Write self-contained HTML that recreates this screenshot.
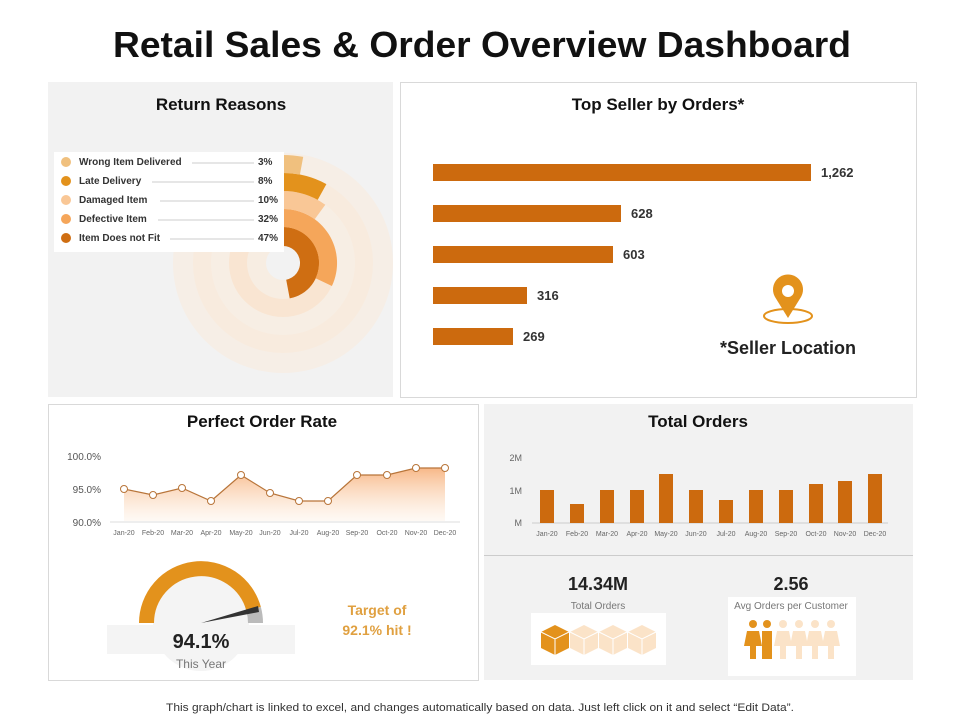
<!DOCTYPE html>
<html><head><meta charset="utf-8"><style>
body{margin:0;background:#fff;}
svg{display:block;font-family:"Liberation Sans",Arial,sans-serif;}
</style></head><body>
<svg width="960" height="720" viewBox="0 0 960 720">
<text x="482" y="57" text-anchor="middle" font-size="36" font-weight="bold" fill="#111" textLength="738" lengthAdjust="spacingAndGlyphs">Retail Sales &amp; Order Overview Dashboard</text>

<!-- Panel 1 -->
<rect x="48" y="82" width="345" height="315" fill="#f2f2f2"/>
<text x="221" y="110" text-anchor="middle" font-size="17" font-weight="bold" fill="#111">Return Reasons</text>
<circle cx="283" cy="263" r="110" fill="#f6eee6"/>
<circle cx="283" cy="263" r="90" fill="#f8ebde"/>
<circle cx="283" cy="263" r="72" fill="#f7eee4"/>
<circle cx="283" cy="263" r="54" fill="#f9e5d2"/>
<circle cx="283" cy="263" r="36" fill="#f7ede2"/>
<circle cx="283" cy="263" r="17" fill="#f2f2f2"/>
<path d="M283,227 A36,36 0 0 1 289.7,298.4 L286.2,279.7 A17,17 0 0 0 283,246 Z" fill="#cf6e12"/>
<path d="M283,209 A54,54 0 0 1 331.9,286.0 L315.6,278.3 A36,36 0 0 0 283,227 Z" fill="#f5a65a"/>
<path d="M283,191 A72,72 0 0 1 325.3,204.8 L314.7,219.3 A54,54 0 0 0 283,209 Z" fill="#f9c796"/>
<path d="M283,173 A90,90 0 0 1 326.4,184.1 L317.7,199.9 A72,72 0 0 0 283,191 Z" fill="#e3921c"/>
<path d="M283,155 A108,108 0 0 1 303.2,156.9 L299.9,174.6 A90,90 0 0 0 283,173 Z" fill="#f0c07e"/>
<rect x="54" y="152" width="230" height="100" fill="#fff"/>
<g font-size="10" font-weight="bold" fill="#333">
<circle cx="66" cy="162" r="5" fill="#f0c07e"/><text x="79" y="165">Wrong Item Delivered</text><line x1="192" y1="163" x2="254" y2="163" stroke="#ccc"/><text x="258" y="165">3%</text>
<circle cx="66" cy="181" r="5" fill="#e3921c"/><text x="79" y="184">Late Delivery</text><line x1="152" y1="182" x2="254" y2="182" stroke="#ccc"/><text x="258" y="184">8%</text>
<circle cx="66" cy="200" r="5" fill="#f9c796"/><text x="79" y="203">Damaged Item</text><line x1="160" y1="201" x2="254" y2="201" stroke="#ccc"/><text x="258" y="203">10%</text>
<circle cx="66" cy="219" r="5" fill="#f5a65a"/><text x="79" y="222">Defective Item</text><line x1="158" y1="220" x2="254" y2="220" stroke="#ccc"/><text x="258" y="222">32%</text>
<circle cx="66" cy="238" r="5" fill="#cf6e12"/><text x="79" y="241">Item Does not Fit</text><line x1="170" y1="239" x2="254" y2="239" stroke="#ccc"/><text x="258" y="241">47%</text>
</g>

<!-- Panel 2 -->
<rect x="400.5" y="82.5" width="516" height="315" fill="#fff" stroke="#d9d9d9"/>
<text x="658" y="110" text-anchor="middle" font-size="17" font-weight="bold" fill="#111">Top Seller by Orders*</text>
<g fill="#cc6a0e">
<rect x="433" y="164" width="378" height="17"/>
<rect x="433" y="205" width="188" height="17"/>
<rect x="433" y="246" width="180" height="17"/>
<rect x="433" y="287" width="94" height="17"/>
<rect x="433" y="328" width="80" height="17"/>
</g>
<g font-size="13" font-weight="bold" fill="#333">
<text x="821" y="177">1,262</text><text x="631" y="218">628</text><text x="623" y="259">603</text><text x="537" y="300">316</text><text x="523" y="341">269</text>
</g>
<ellipse cx="788" cy="316" rx="24" ry="7" fill="none" stroke="#e3921c" stroke-width="2"/>
<path d="M788,318 L775,297 A15,15 0 1 1 801,297 Z" fill="#e3921c"/>
<circle cx="788" cy="291" r="6" fill="#fff"/>
<text x="788" y="354" text-anchor="middle" font-size="18" font-weight="bold" fill="#222">*Seller Location</text>

<!-- Panel 3 -->
<rect x="48.5" y="404.5" width="430" height="276" fill="#fff" stroke="#d9d9d9"/>
<text x="262" y="427" text-anchor="middle" font-size="17" font-weight="bold" fill="#111">Perfect Order Rate</text>
<defs><linearGradient id="g1" x1="0" y1="0" x2="0" y2="1"><stop offset="0" stop-color="#f5a060" stop-opacity="0.75"/><stop offset="1" stop-color="#fbd8b8" stop-opacity="0.15"/></linearGradient></defs>
<g font-size="10" fill="#555" text-anchor="end"><text x="101" y="460">100.0%</text><text x="101" y="493">95.0%</text><text x="101" y="526">90.0%</text></g>
<path d="M124,489 L153,495 L182,488 L211,501 L241,475 L270,493 L299,501 L328,501 L357,475 L387,475 L416,468 L445,468 L445,521 L124,521 Z" fill="url(#g1)"/>
<line x1="110" y1="522" x2="460" y2="522" stroke="#ddd"/>
<polyline points="124,489 153,495 182,488 211,501 241,475 270,493 299,501 328,501 357,475 387,475 416,468 445,468" fill="none" stroke="#b8753a" stroke-width="1.2"/>
<g fill="#fff" stroke="#b8753a" stroke-width="1"><circle cx="124" cy="489" r="3.5"/><circle cx="153" cy="495" r="3.5"/><circle cx="182" cy="488" r="3.5"/><circle cx="211" cy="501" r="3.5"/><circle cx="241" cy="475" r="3.5"/><circle cx="270" cy="493" r="3.5"/><circle cx="299" cy="501" r="3.5"/><circle cx="328" cy="501" r="3.5"/><circle cx="357" cy="475" r="3.5"/><circle cx="387" cy="475" r="3.5"/><circle cx="416" cy="468" r="3.5"/><circle cx="445" cy="468" r="3.5"/></g>
<g font-size="7" fill="#666" text-anchor="middle"><text x="124" y="535">Jan-20</text><text x="153" y="535">Feb-20</text><text x="182" y="535">Mar-20</text><text x="211" y="535">Apr-20</text><text x="241" y="535">May-20</text><text x="270" y="535">Jun-20</text><text x="299" y="535">Jul-20</text><text x="328" y="535">Aug-20</text><text x="357" y="535">Sep-20</text><text x="387" y="535">Oct-20</text><text x="416" y="535">Nov-20</text><text x="445" y="535">Dec-20</text></g>
<circle cx="201" cy="623" r="48" fill="#f4f4f4"/>
<path d="M146.5,623 A54.5,54.5 0 0 1 253.6,608.9" fill="none" stroke="#e3921c" stroke-width="15"/>
<path d="M253.6,608.9 A54.5,54.5 0 0 1 255.5,623" fill="none" stroke="#bbb" stroke-width="15"/>
<path d="M201,623 L258,606 L259,612 Z" fill="#333"/>
<rect x="107" y="625" width="188" height="29" fill="#f4f4f4"/>
<text x="201" y="648" text-anchor="middle" font-size="20" font-weight="bold" fill="#222">94.1%</text>
<text x="201" y="668" text-anchor="middle" font-size="12" fill="#777">This Year</text>
<text x="377" y="615" text-anchor="middle" font-size="14" font-weight="bold" fill="#e0a040">Target of</text>
<text x="377" y="635" text-anchor="middle" font-size="14" font-weight="bold" fill="#e0a040">92.1% hit !</text>

<!-- Panel 4 -->
<rect x="484" y="404" width="429" height="276" fill="#f2f2f2"/>
<text x="698" y="427" text-anchor="middle" font-size="17" font-weight="bold" fill="#111">Total Orders</text>
<g font-size="9" fill="#666" text-anchor="end"><text x="522" y="461">2M</text><text x="522" y="494">1M</text><text x="522" y="526">M</text></g>
<line x1="532" y1="523" x2="888" y2="523" stroke="#ccc"/>
<g fill="#cc6a0e">
<rect x="540" y="490" width="14" height="33"/><rect x="570" y="504" width="14" height="19"/><rect x="600" y="490" width="14" height="33"/><rect x="630" y="490" width="14" height="33"/><rect x="659" y="474" width="14" height="49"/><rect x="689" y="490" width="14" height="33"/><rect x="719" y="500" width="14" height="23"/><rect x="749" y="490" width="14" height="33"/><rect x="779" y="490" width="14" height="33"/><rect x="809" y="484" width="14" height="39"/><rect x="838" y="481" width="14" height="42"/><rect x="868" y="474" width="14" height="49"/>
</g>
<g font-size="7" fill="#666" text-anchor="middle"><text x="547" y="536">Jan-20</text><text x="577" y="536">Feb-20</text><text x="607" y="536">Mar-20</text><text x="637" y="536">Apr-20</text><text x="666" y="536">May-20</text><text x="696" y="536">Jun-20</text><text x="726" y="536">Jul-20</text><text x="756" y="536">Aug-20</text><text x="786" y="536">Sep-20</text><text x="816" y="536">Oct-20</text><text x="845" y="536">Nov-20</text><text x="875" y="536">Dec-20</text></g>
<line x1="484" y1="555.5" x2="913" y2="555.5" stroke="#ccc"/>
<text x="598" y="590" text-anchor="middle" font-size="18" font-weight="bold" fill="#222">14.34M</text>
<text x="598" y="609" text-anchor="middle" font-size="10" fill="#777">Total Orders</text>
<rect x="531" y="613" width="135" height="52" fill="#fff"/>
<g>
<path d="M541,632 L555,625 L569,632 L569,648 L555,655 L541,648 Z" fill="#e3921c"/>
<path d="M555,639 L555,655 M541,632 L555,639 L569,632" stroke="#fff" fill="none"/>
<path d="M570,632 L584,625 L598,632 L598,648 L584,655 L570,648 Z" fill="#fbe3c8"/>
<path d="M599,632 L613,625 L627,632 L627,648 L613,655 L599,648 Z" fill="#fbe3c8"/>
<path d="M628,632 L642,625 L656,632 L656,648 L642,655 L628,648 Z" fill="#fbe3c8"/>
<path d="M584,639 L584,655 M570,632 L584,639 L598,632 M613,639 L613,655 M599,632 L613,639 L627,632 M642,639 L642,655 M628,632 L642,639 L656,632" stroke="#fff" fill="none"/>
</g>
<text x="791" y="590" text-anchor="middle" font-size="18" font-weight="bold" fill="#222">2.56</text>
<rect x="728" y="597" width="128" height="79" fill="#fff"/>
<text x="791" y="609" text-anchor="middle" font-size="10" fill="#777">Avg Orders per Customer</text>
<g>
<g fill="#e3921c"><circle cx="753" cy="624" r="4"/><path d="M747,631 L759,631 L762,646 L756,646 L756,659 L750,659 L750,646 L744,646 Z"/>
<circle cx="767" cy="624" r="4"/><path d="M762,631 L772,631 L772,659 L762,659 Z"/></g>
<g fill="#fbe3c8"><circle cx="783" cy="624" r="4"/><path d="M777,631 L789,631 L792,646 L786,646 L786,659 L780,659 L780,646 L774,646 Z"/>
<circle cx="799" cy="624" r="4"/><path d="M793,631 L805,631 L808,646 L802,646 L802,659 L796,659 L796,646 L790,646 Z"/>
<circle cx="815" cy="624" r="4"/><path d="M809,631 L821,631 L824,646 L818,646 L818,659 L812,659 L812,646 L806,646 Z"/>
<circle cx="831" cy="624" r="4"/><path d="M825,631 L837,631 L840,646 L834,646 L834,659 L828,659 L828,646 L822,646 Z"/></g>
</g>

<text x="480" y="711" text-anchor="middle" font-size="11" fill="#333" textLength="628" lengthAdjust="spacingAndGlyphs">This graph/chart is linked to excel, and changes automatically based on data. Just left click on it and select “Edit Data”.</text>
</svg>
</body></html>
